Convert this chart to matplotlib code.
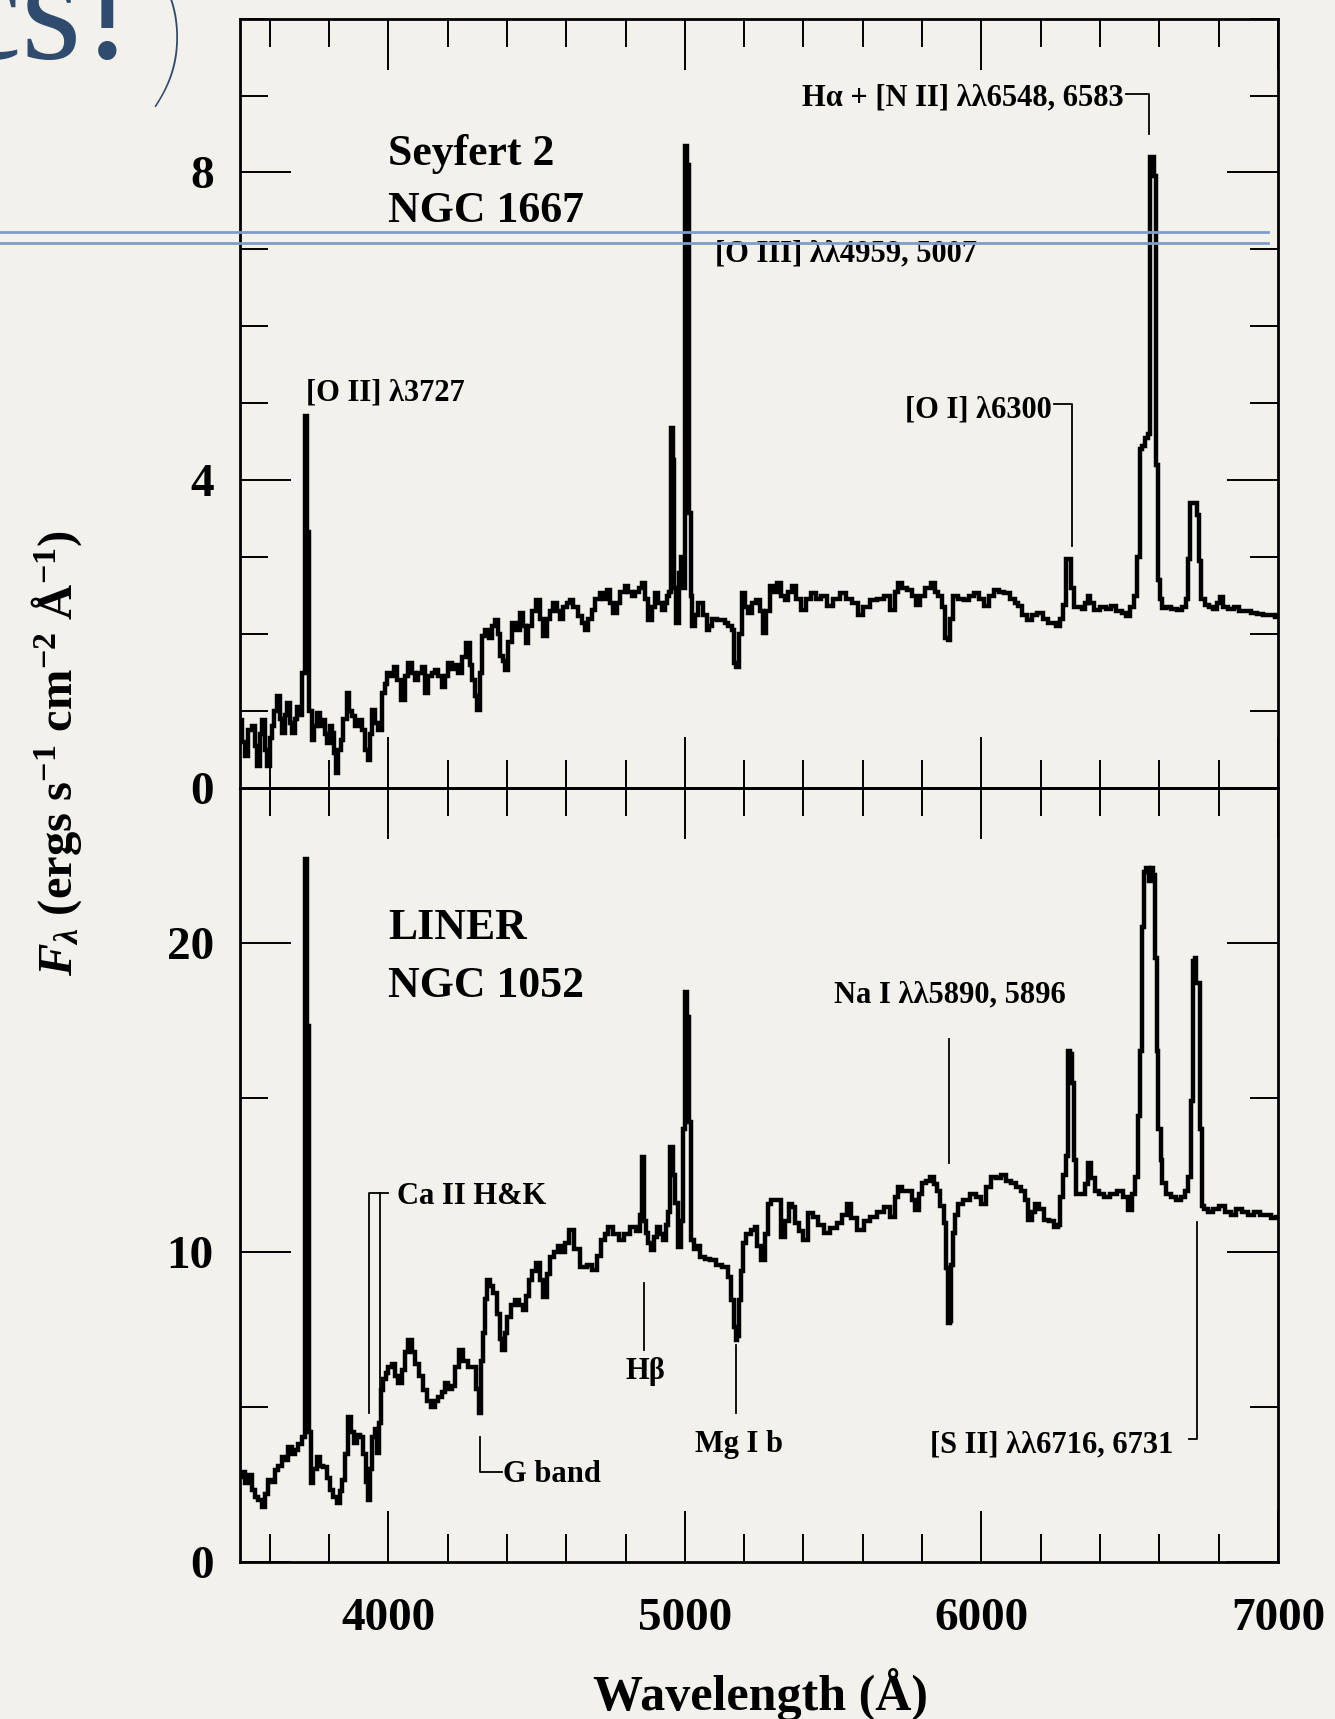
import numpy as np
import matplotlib.pyplot as plt
from matplotlib.ticker import MultipleLocator
from matplotlib.lines import Line2D

plt.rcParams['font.family'] = ['Liberation Serif', 'DejaVu Serif']
plt.rcParams['font.weight'] = 'bold'
plt.rcParams['mathtext.fontset'] = 'custom'
plt.rcParams['mathtext.rm'] = 'Liberation Serif:bold'
plt.rcParams['mathtext.it'] = 'Liberation Serif:italic:bold'
plt.rcParams['mathtext.bf'] = 'Liberation Serif:bold'

paper = '#f3f1ec'
slide_blue = '#2f4b6e'
rule_blue = '#7f9dc8'

# Seyfert 2 - NGC 1667 (wavelength in A, flux)
sy2_wave = [3500, 3511, 3522, 3533, 3545, 3555, 3562, 3570, 3579, 3588, 3596, 3604,
            3612, 3620, 3629, 3638, 3646, 3655, 3663, 3671, 3680, 3688, 3697, 3705,
            3714, 3722, 3730, 3738, 3747, 3755, 3764, 3772, 3781, 3790, 3798, 3806,
            3815, 3820, 3826, 3835, 3843, 3854, 3865, 3873, 3882, 3893, 3905, 3918,
            3927, 3933, 3942, 3950, 3961, 3972, 3983, 3992, 4000, 4012, 4023, 4037,
            4051, 4062, 4073, 4085, 4096, 4107, 4118, 4129, 4140, 4152, 4163, 4175,
            4186, 4197, 4208, 4220, 4231, 4242, 4256, 4270, 4280, 4287, 4296, 4304,
            4312, 4321, 4333, 4345, 4355, 4365, 4374, 4382, 4391, 4399, 4410, 4422,
            4436, 4450, 4459, 4467, 4478, 4490, 4506, 4517, 4528, 4540, 4551, 4562,
            4573, 4585, 4596, 4607, 4618, 4630, 4647, 4658, 4669, 4680, 4691, 4705,
            4720, 4731, 4742, 4753, 4764, 4775, 4790, 4804, 4815, 4826, 4840, 4851,
            4860, 4870, 4883, 4894, 4905, 4916, 4927, 4936, 4944, 4950, 4955, 4962,
            4968, 4975, 4983, 4990, 4997, 5003, 5010, 5016, 5022, 5029, 5040, 5051,
            5057, 5068, 5079, 5085, 5100, 5119, 5130, 5140, 5152, 5163, 5170, 5178,
            5186, 5197, 5208, 5220, 5235, 5248, 5260, 5270, 5280, 5293, 5304, 5315,
            5330, 5343, 5355, 5366, 5383, 5399, 5415, 5433, 5450, 5470, 5489, 5510,
            5534, 5555, 5575, 5591, 5610, 5636, 5660, 5680, 5703, 5715, 5725, 5742,
            5759, 5775, 5787, 5800, 5820, 5838, 5850, 5860, 5872, 5882, 5890, 5898,
            5911, 5930, 5950, 5967, 5984, 6000, 6018, 6035, 6051, 6068, 6085, 6105,
            6118, 6130, 6145, 6164, 6180, 6198, 6215, 6231, 6245, 6259, 6270, 6280,
            6290, 6298, 6306, 6315, 6330, 6345, 6355, 6362, 6370, 6388, 6410, 6430,
            6445, 6465, 6480, 6495, 6510, 6522, 6530, 6536, 6545, 6555, 6565, 6572,
            6580, 6587, 6592, 6598, 6605, 6613, 6630, 6650, 6669, 6685, 6693, 6700,
            6708, 6716, 6724, 6731, 6738, 6745, 6760, 6775, 6790, 6800, 6811, 6820,
            6840, 6860, 6880, 6900, 6920, 6940, 6960, 6980, 7000]
sy2_flux = [0.88, 0.60, 0.41, 0.75, 0.80, 0.55, 0.28, 0.70, 0.88, 0.50, 0.28, 0.65,
            0.80, 1.00, 1.19, 0.90, 0.71, 0.95, 1.10, 0.85, 0.71, 0.90, 1.05, 0.95,
            1.49, 4.83, 3.33, 1.00, 0.62, 0.80, 0.97, 0.80, 0.88, 0.70, 0.58, 0.80,
            0.71, 0.45, 0.19, 0.50, 0.62, 0.90, 1.23, 1.00, 0.93, 0.80, 0.88, 0.75,
            0.50, 0.36, 0.70, 1.02, 0.85, 0.75, 1.23, 1.35, 1.49, 1.45, 1.57, 1.40,
            1.14, 1.45, 1.62, 1.50, 1.40, 1.50, 1.57, 1.23, 1.45, 1.50, 1.53, 1.45,
            1.31, 1.45, 1.62, 1.55, 1.60, 1.49, 1.70, 1.88, 1.60, 1.40, 1.20, 1.02,
            1.50, 1.97, 2.05, 1.95, 2.10, 2.18, 2.00, 1.71, 1.65, 1.53, 1.90, 2.14,
            2.05, 2.27, 2.10, 1.88, 2.10, 2.30, 2.44, 2.20, 1.97, 2.20, 2.30, 2.40,
            2.30, 2.20, 2.35, 2.40, 2.44, 2.35, 2.23, 2.15, 2.05, 2.20, 2.31, 2.45,
            2.53, 2.45, 2.57, 2.40, 2.27, 2.40, 2.55, 2.62, 2.55, 2.49, 2.55, 2.60,
            2.66, 2.45, 2.18, 2.35, 2.53, 2.40, 2.31, 2.40, 2.49, 2.55, 4.68, 4.26,
            2.60, 2.14, 2.80, 3.00, 2.60, 8.35, 8.10, 3.57, 2.50, 2.10, 2.25, 2.40,
            2.40, 2.25, 2.05, 2.10, 2.20, 2.18, 2.18, 2.15, 2.10, 2.05, 1.62, 1.57,
            2.00, 2.53, 2.35, 2.27, 2.40, 2.44, 2.30, 2.01, 2.30, 2.62, 2.55, 2.66,
            2.50, 2.44, 2.55, 2.62, 2.45, 2.31, 2.45, 2.53, 2.45, 2.50, 2.36, 2.45,
            2.53, 2.45, 2.40, 2.25, 2.35, 2.44, 2.45, 2.49, 2.31, 2.55, 2.66, 2.60,
            2.57, 2.50, 2.38, 2.50, 2.60, 2.66, 2.55, 2.49, 2.35, 1.95, 1.92, 2.20,
            2.49, 2.45, 2.44, 2.50, 2.53, 2.45, 2.36, 2.50, 2.57, 2.55, 2.53, 2.45,
            2.40, 2.36, 2.25, 2.18, 2.25, 2.27, 2.20, 2.14, 2.15, 2.10, 2.20, 2.38,
            2.97, 2.97, 2.60, 2.35, 2.35, 2.33, 2.40, 2.50, 2.40, 2.31, 2.35, 2.33,
            2.36, 2.30, 2.28, 2.23, 2.35, 2.50, 3.00, 4.40, 4.45, 4.55, 4.60, 8.20,
            8.20, 7.95, 4.20, 2.70, 2.45, 2.34, 2.35, 2.32, 2.31, 2.35, 2.45, 2.97,
            3.70, 3.70, 3.70, 3.55, 2.95, 2.45, 2.38, 2.35, 2.33, 2.40, 2.48, 2.35,
            2.32, 2.35, 2.30, 2.30, 2.28, 2.26, 2.25, 2.25, 2.22]

# LINER - NGC 1052
liner_wave = [3500, 3511, 3522, 3533, 3545, 3555, 3566, 3579, 3590, 3601, 3612, 3624,
              3635, 3646, 3657, 3669, 3680, 3691, 3702, 3714, 3722, 3730, 3738, 3742,
              3752, 3764, 3775, 3787, 3798, 3809, 3820, 3832, 3840, 3848, 3860, 3871,
              3880, 3888, 3898, 3910, 3920, 3927, 3933, 3942, 3950, 3958, 3966, 3972,
              3978, 3987, 3995, 4006, 4017, 4028, 4040, 4051, 4062, 4073, 4085, 4096,
              4110, 4124, 4138, 4152, 4163, 4174, 4186, 4197, 4208, 4219, 4233, 4247,
              4260, 4276, 4292, 4300, 4309, 4316, 4321, 4330, 4337, 4348, 4360, 4370,
              4380, 4388, 4396, 4405, 4420, 4433, 4447, 4461, 4470, 4478, 4492, 4506,
              4517, 4528, 4540, 4551, 4565, 4579, 4590, 4600, 4620, 4635, 4659, 4678,
              4697, 4710, 4723, 4735, 4748, 4768, 4787, 4805, 4826, 4845, 4852, 4859,
              4866, 4871, 4881, 4891, 4900, 4910, 4920, 4930, 4940, 4948, 4955, 4962,
              4970, 4981, 4990, 4997, 5004, 5011, 5017, 5024, 5035, 5045, 5058, 5075,
              5097, 5115, 5136, 5152, 5162, 5168, 5174, 5180, 5187, 5193, 5199, 5215,
              5231, 5239, 5250, 5264, 5276, 5287, 5297, 5315, 5332, 5345, 5354, 5368,
              5377, 5392, 5405, 5422, 5440, 5460, 5478, 5500, 5523, 5540, 5551, 5570,
              5591, 5615, 5636, 5660, 5680, 5703, 5712, 5725, 5742, 5759, 5770, 5782,
              5795, 5804, 5820, 5832, 5845, 5855, 5868, 5877, 5884, 5890, 5896, 5900,
              5905, 5915, 5928, 5950, 5973, 5990, 6006, 6025, 6040, 6057, 6074, 6090,
              6108, 6125, 6141, 6152, 6164, 6175, 6186, 6200, 6220, 6237, 6254, 6262,
              6271, 6280, 6287, 6294, 6302, 6310, 6316, 6321, 6332, 6344, 6352, 6364,
              6375, 6389, 6405, 6422, 6445, 6467, 6485, 6501, 6512, 6523, 6530, 6538,
              6545, 6552, 6560, 6568, 6575, 6582, 6588, 6594, 6600, 6608, 6613, 6630,
              6647, 6665, 6681, 6692, 6703, 6709, 6716, 6722, 6728, 6734, 6740, 6746,
              6755, 6770, 6790, 6810, 6830, 6850, 6870, 6890, 6910, 6930, 6950, 6970,
              6985, 7000]
liner_flux = [2.76, 2.90, 2.54, 2.80, 2.33, 2.10, 2.00, 1.79, 2.20, 2.65, 2.60, 2.97,
              3.10, 3.40, 3.30, 3.73, 3.50, 3.62, 3.80, 4.05, 22.70, 17.30, 4.20, 2.54,
              3.00, 3.40, 3.10, 3.08, 2.70, 2.33, 2.10, 1.90, 2.30, 2.65, 3.50, 4.70,
              4.20, 3.83, 4.10, 4.05, 3.50, 2.60, 2.00, 3.00, 4.05, 4.30, 3.51, 4.50,
              5.56, 5.90, 6.09, 6.30, 6.41, 6.00, 5.77, 6.20, 6.80, 7.17, 6.80, 6.41,
              6.00, 5.56, 5.20, 5.02, 5.20, 5.34, 5.50, 5.77, 5.60, 5.67, 6.30, 6.85,
              6.50, 6.30, 6.30, 5.60, 4.80, 6.50, 7.39, 8.50, 9.11, 8.90, 8.68, 8.00,
              7.20, 6.85, 7.40, 7.92, 8.30, 8.46, 8.30, 8.14, 8.60, 9.11, 9.40, 9.65,
              9.10, 8.57, 9.30, 9.86, 10.00, 10.20, 10.00, 10.30, 10.73, 10.10, 9.54, 9.60,
              9.43, 9.90, 10.40, 10.60, 10.83, 10.60, 10.40, 10.60, 10.83, 10.70, 11.20, 13.09,
              11.00, 10.62, 10.30, 10.08, 10.50, 10.83, 10.60, 10.40, 10.90, 11.30, 13.40, 12.50,
              11.60, 10.19, 11.00, 14.00, 18.40, 17.60, 14.20, 10.40, 10.10, 10.20, 9.86, 9.80,
              9.75, 9.60, 9.54, 9.22, 8.46, 7.60, 7.17, 7.30, 8.46, 9.40, 10.30, 10.60,
              10.73, 10.83, 10.20, 9.75, 10.60, 11.58, 11.70, 11.69, 10.51, 11.00, 11.58, 11.48,
              10.94, 10.70, 10.40, 11.26, 11.15, 10.90, 10.62, 10.80, 10.94, 11.20, 11.58, 11.10,
              10.73, 11.00, 11.15, 11.30, 11.48, 11.15, 11.80, 12.12, 12.00, 12.00, 11.70, 11.37,
              11.90, 12.23, 12.30, 12.45, 12.20, 12.00, 11.50, 10.94, 9.50, 7.71, 7.80, 9.60,
              10.62, 11.20, 11.58, 11.70, 11.90, 11.80, 11.58, 12.10, 12.45, 12.40, 12.50, 12.30,
              12.23, 12.10, 12.00, 11.70, 11.04, 11.30, 11.58, 11.40, 11.04, 11.00, 10.83, 10.90,
              11.80, 12.50, 13.10, 16.50, 16.40, 15.46, 13.00, 11.90, 11.90, 11.90, 12.20, 12.88,
              12.40, 12.00, 11.90, 11.80, 11.90, 12.00, 11.80, 11.37, 11.90, 12.45, 14.40, 16.50,
              20.50, 22.30, 22.40, 22.00, 22.40, 22.20, 19.50, 16.50, 14.00, 13.00, 12.23, 11.90,
              11.80, 11.70, 11.80, 12.00, 12.45, 14.90, 19.40, 19.50, 18.70, 18.70, 14.00, 11.50,
              11.40, 11.30, 11.40, 11.50, 11.30, 11.20, 11.40, 11.30, 11.20, 11.30, 11.20, 11.20,
              11.10, 11.15]


fig = plt.figure(figsize=(13.35, 17.19), dpi=100, facecolor=paper)
ax_top = fig.add_axes([0.1798, 0.5416, 0.7775, 0.4476])
ax_bot = fig.add_axes([0.1798, 0.0913, 0.7775, 0.4503])


def style_panel(ax, ymax, ymajor, yminor, xlabels):
    ax.set_facecolor('none')
    ax.set_xlim(3500, 7000)
    ax.set_ylim(0, ymax)
    ax.xaxis.set_major_locator(MultipleLocator(1000))
    ax.xaxis.set_minor_locator(MultipleLocator(200))
    ax.yaxis.set_major_locator(MultipleLocator(ymajor))
    ax.yaxis.set_minor_locator(MultipleLocator(yminor))
    ax.tick_params(which='both', direction='in', top=True, right=True,
                   width=1.4, color='black')
    ax.tick_params(which='major', length=37)
    ax.tick_params(which='minor', length=20)
    ax.tick_params(axis='y', pad=19, labelsize=34)
    ax.tick_params(axis='x', pad=26, labelsize=34, labelbottom=xlabels)
    for sp in ax.spines.values():
        sp.set_linewidth(2)


style_panel(ax_top, 10, 4, 1, False)
style_panel(ax_bot, 25, 10, 5, True)

ax_top.plot(sy2_wave, sy2_flux, color='black', lw=3.2, drawstyle='steps-mid',
            solid_joinstyle='miter')
ax_bot.plot(liner_wave, liner_flux, color='black', lw=3.2, drawstyle='steps-mid',
            solid_joinstyle='miter')

ann = dict(fontsize=22, fontweight='bold', va='baseline')
lk = dict(color='black', lw=1.3)

# top panel labels
ax_top.text(4000, 8.10, 'Seyfert 2', fontsize=31.5, va='baseline')
ax_top.text(4000, 7.35, 'NGC 1667', fontsize=31.5, va='baseline')
ax_top.text(3722, 5.04, '[O II] λ3727', ha='left', **ann)
ax_top.text(5103, 6.85, '[O III] λλ4959, 5007', ha='left', **ann)
ax_top.text(6236, 4.82, '[O I] λ6300', ha='right', **ann)
ax_top.plot([6244, 6304, 6304], [4.99, 4.99, 3.15], **lk)
ax_top.text(6478, 8.87, 'Hα + [N II] λλ6548, 6583', ha='right', **ann)
ax_top.plot([6486, 6564, 6564], [9.02, 9.02, 8.50], **lk)

# bottom panel labels
ax_bot.text(4000, 20.12, 'LINER', fontsize=31.5, va='baseline')
ax_bot.text(4000, 18.25, 'NGC 1052', fontsize=31.5, va='baseline')
ax_bot.text(5894, 18.06, 'Na I λλ5890, 5896', ha='center', **ann)
ax_bot.plot([5889, 5889], [16.9, 12.9], **lk)
ax_bot.text(4029, 11.56, 'Ca II H&K', ha='left', **ann)
ax_bot.plot([4000, 3936, 3936], [11.93, 11.93, 4.81], **lk)
ax_bot.plot([3972, 3972], [11.93, 4.30], **lk)
ax_bot.plot([4309, 4309, 4383], [4.04, 2.91, 2.91], **lk)
ax_bot.text(4388, 2.59, 'G band', ha='left', **ann)
ax_bot.plot([4862, 4862], [9.02, 6.85], **lk)
ax_bot.text(4866, 5.91, 'Hβ', ha='center', **ann)
ax_bot.plot([5171, 5171], [7.00, 4.81], **lk)
ax_bot.text(5182, 3.56, 'Mg I b', ha='center', **ann)
ax_bot.text(6648, 3.55, '[S II] λλ6716, 6731', ha='right', **ann)
ax_bot.plot([6700, 6727, 6727], [3.96, 3.96, 10.98], **lk)

fig.text(0.570, 0.0052, 'Wavelength (Å)', ha='center', va='baseline', fontsize=36)
fig.text(0.0427, 0.5617, r'$F_\lambda$ (ergs s$^{-1}$ cm$^{-2}$ Å$^{-1}$)',
         rotation=90, ha='center', va='center', fontsize=35)

# slide decoration (title text cut by the top edge, as on the slide)
fig.text(0.0996, 0.9663, 'cs!', ha='right', va='baseline', fontsize=112,
         color=slide_blue, fontweight='normal')
fig.text(0.1102, 0.9482, ')', ha='left', va='baseline', fontsize=116,
         color=slide_blue, family=['Lato', 'DejaVu Sans'], fontweight='light')
for yy in (232.3, 242.7):
    fig.add_artist(Line2D([0, 0.9498], [1 - yy / 1719] * 2, color=rule_blue,
                          lw=2.0, zorder=10))

fig.savefig('out.png', dpi=100, facecolor=paper)
